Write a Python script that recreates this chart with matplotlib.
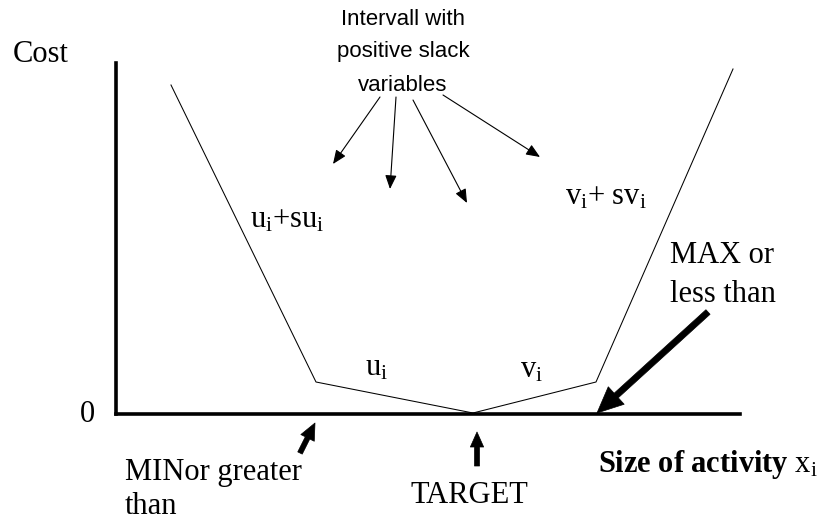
import matplotlib
matplotlib.use("Agg")
import matplotlib.pyplot as plt

plt.rcParams['mathtext.fontset'] = 'custom'
plt.rcParams['mathtext.rm'] = 'Liberation Serif'
plt.rcParams['mathtext.it'] = 'Liberation Serif:italic'
plt.rcParams['mathtext.bf'] = 'Liberation Serif:bold'

# Cost curve (piecewise linear), in pixel-like units from the axis origin
size_x = [55, 200, 357, 480, 617]
cost_y = [329, 32, 1, 32, 345]

# thin arrows from the "Intervall with positive slack variables" note
note_tails = [(264, 317), (280, 317), (297, 314), (327, 319)]
note_heads = [(217, 250), (274, 225), (351, 211), (424, 257)]

W, H = 829, 521
fig = plt.figure(figsize=(W / 100, H / 100), dpi=100)
x0, y0, x1, y1 = 116, 414, 740, 63
ax = fig.add_axes([x0 / W, (H - y0) / H, (x1 - x0) / W, (y0 - y1) / H])
ax.set_xlim(0, x1 - x0)
ax.set_ylim(0, y0 - y1)
for s in ['top', 'right']:
    ax.spines[s].set_visible(False)
for s in ['left', 'bottom']:
    ax.spines[s].set_linewidth(2.6)
    ax.spines[s].set_capstyle('projecting')
ax.set_xticks([])
ax.set_yticks([])
ax.patch.set_alpha(0)

ax.plot(size_x, cost_y, color='black', lw=0.75, clip_on=False)

serif = 'Liberation Serif'
fs = 22

ax.text(-103, 352, 'Cost', family=serif, fontsize=fs, ha='left', va='baseline')
ax.text(-29, -1, '0', family=serif, fontsize=fs, ha='center', va='center')

sans = 'Liberation Sans'
for txt, yy in zip(['Intervall with', 'positive slack', 'variables'], [394, 362, 328]):
    ax.text(287, yy, txt, family=sans, fontsize=16, ha='center', va='center')

for (tx, ty), (hx, hy) in zip(note_tails, note_heads):
    ax.annotate('', xy=(hx, hy), xytext=(tx, ty),
                arrowprops=dict(arrowstyle='-|>,head_length=0.6,head_width=0.25',
                                lw=0.8, color='black', mutation_scale=14,
                                shrinkA=0, shrinkB=0), annotation_clip=False)

ax.text(134, 186, r'$\mathrm{u_i{+}su_i}$', fontsize=fs, ha='left', va='baseline')
ax.text(449, 209, r'$\mathrm{v_i{+}\ sv_i}$', fontsize=fs, ha='left', va='baseline')
ax.text(249, 39, r'$\mathrm{u_i}$', fontsize=fs, ha='left', va='baseline')
ax.text(404, 37, r'$\mathrm{v_i}$', fontsize=fs, ha='left', va='baseline')

ax.text(554, 151, 'MAX or', family=serif, fontsize=fs, ha='left', va='baseline')
ax.text(554, 112, 'less than', family=serif, fontsize=fs, ha='left', va='baseline')
ax.text(9, -66, 'MINor greater', family=serif, fontsize=fs, ha='left', va='baseline')
ax.text(9, -100, 'than', family=serif, fontsize=fs, ha='left', va='baseline')
ax.text(353, -89, 'TARGET', family=serif, fontsize=fs, ha='center', va='baseline')
ax.text(482, -58, r'$\mathbf{Size\ of\ activity}\ \mathrm{x_i}$', fontsize=fs,
        ha='left', va='baseline')

def thick(tail, tip, hl, hw, tw, ms):
    ax.annotate('', xy=tip, xytext=tail,
                arrowprops=dict(arrowstyle=f'simple,head_length={hl},head_width={hw},tail_width={tw}',
                                fc='black', ec='black', lw=0.5, mutation_scale=ms,
                                shrinkA=0, shrinkB=0), annotation_clip=False)

thick((592, 102), (481, 1), 1.1, 1.0, 0.26, 17)
thick((184, -39), (199, -9), 1.0, 0.9, 0.3, 12)
thick((361, -52), (361, -18), 0.9, 0.8, 0.3, 12)

fig.savefig('out.png', dpi=100)
